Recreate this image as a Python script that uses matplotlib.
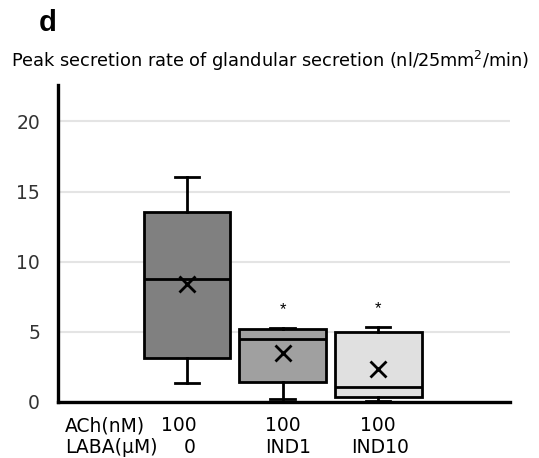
import matplotlib.pyplot as plt
import numpy as np

plt.rcParams['font.family'] = ['DejaVu Sans']

# values (nl/25mm2/min)
groups = ['0', 'IND1', 'IND10']
ach = ['100', '100', '100']
whislo = [1.35, 0.2, 0.1]
q1 = [3.15, 1.45, 0.35]
med = [8.8, 4.5, 1.05]
q3 = [13.55, 5.2, 5.0]
whishi = [16.05, 5.3, 5.35]
mean = [8.4, 3.5, 2.35]
star = [None, '*', '*']
colors = ['#808080', '#a0a0a0', '#e0e0e0']

stats = []
for i in range(len(groups)):
    stats.append(dict(med=med[i], q1=q1[i], q3=q3[i], whislo=whislo[i],
                      whishi=whishi[i], mean=mean[i], fliers=[], label=groups[i]))

fig = plt.figure(figsize=(5.39, 4.58), dpi=100)
ax = fig.add_axes([0.1076, 0.1223, 0.8384, 0.6921])

pos = np.arange(1, len(groups) + 1)
bp = ax.bxp(stats, positions=pos, widths=0.91, patch_artist=True,
            showmeans=True, meanline=False,
            boxprops=dict(linewidth=2, edgecolor='black'),
            medianprops=dict(color='black', linewidth=2),
            whiskerprops=dict(color='black', linewidth=2),
            capprops=dict(color='black', linewidth=2),
            capwidths=0.26,
            meanprops=dict(marker='x', markeredgecolor='black', markersize=11,
                           markeredgewidth=2),
            zorder=3)
for patch, c in zip(bp['boxes'], colors):
    patch.set_facecolor(c)

for p, s, top in zip(pos, star, whishi):
    if s:
        ax.text(p, top + 0.75, s, ha='center', va='bottom', fontsize=12,
                family='Liberation Sans')

ax.set_xlim(-0.35, 4.38)
ax.set_ylim(0, 22.6)
ax.set_yticks([0, 5, 10, 15, 20])
ax.set_xticks([])
ax.tick_params(axis='y', length=0, pad=13, labelsize=13.5, labelcolor='#333333')
ax.grid(axis='y', color='#e4e4e4', linewidth=1.5, zorder=0)
ax.set_axisbelow(True)
for side in ['top', 'right']:
    ax.spines[side].set_visible(False)
for side in ['left', 'bottom']:
    ax.spines[side].set_linewidth(2.4)
    ax.spines[side].set_zorder(4)

# table-like x labels
tr = ax.get_xaxis_transform()
ach_x = [-0.09, 0.0, 0.0]
laba_x = [0.03, 0.06, 0.02]
ax.text(-0.28, -0.075, 'ACh(nM)', transform=tr, ha='left', va='center', fontsize=13.5)
ax.text(-0.28, -0.145, 'LABA(μM)', transform=tr, ha='left', va='center', fontsize=13.5)
for p, a, g, dx1, dx2 in zip(pos, ach, groups, ach_x, laba_x):
    ax.text(p + dx1, -0.075, a, transform=tr, ha='center', va='center', fontsize=13.5)
    ax.text(p + dx2, -0.145, g, transform=tr, ha='center', va='center', fontsize=13.5)

fig.text(0.072, 0.95, 'd', fontsize=21, fontweight='bold', ha='left', va='center',
         family='Liberation Sans')
fig.text(0.02, 0.866, 'Peak secretion rate of glandular secretion (nl/25mm$^{2}$/min)',
         fontsize=12.8, ha='left', va='center')

fig.savefig('out.png', dpi=100)
